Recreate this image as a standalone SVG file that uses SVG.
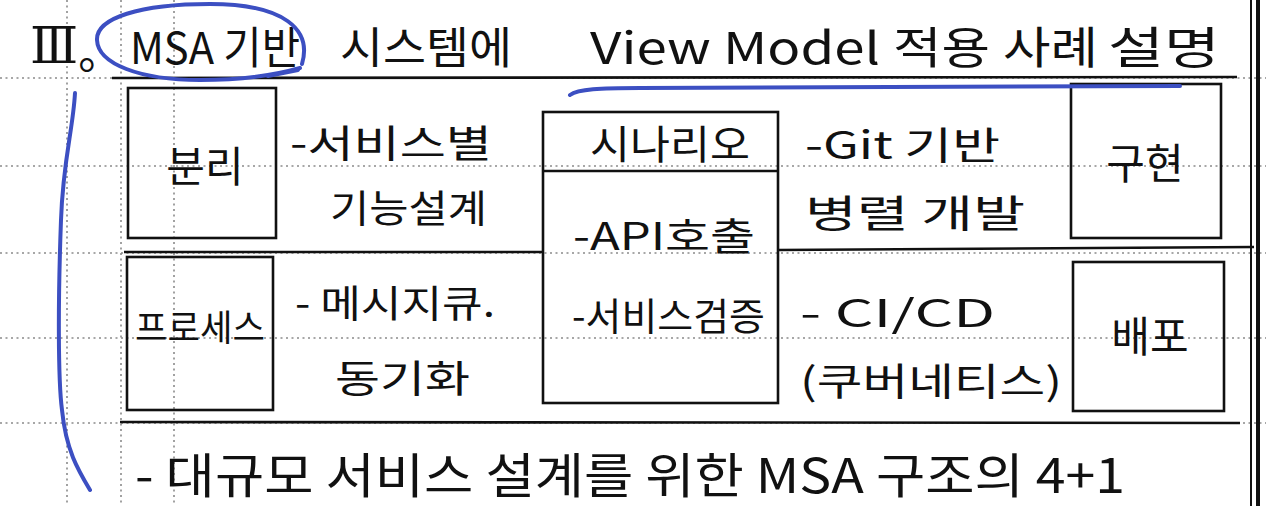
<svg xmlns="http://www.w3.org/2000/svg" width="1266" height="506" viewBox="0 0 1266 506">
<style>
.grid{stroke:#8a8a8a;stroke-width:1.6;stroke-dasharray:2 3.5;fill:none}
.rule{stroke:#111;stroke-width:2.6;fill:none}
.box{stroke:#111;stroke-width:2.6;fill:none}
.ink{fill:#111;font-family:"Noto Sans CJK KR","Liberation Sans",sans-serif;font-weight:400;dominant-baseline:central}
.title{font-size:44px}
.lbl{font-size:42px;text-anchor:middle}
.note{font-size:38px}
.serif{font-family:"Liberation Serif","DejaVu Serif",serif}
.blue{stroke:#3c4fc2;stroke-width:4;fill:none;stroke-linecap:round;stroke-linejoin:round}
</style>
<rect width="1266" height="506" fill="#ffffff"/>
<g id="grid">
<line class="grid" x1="0" y1="78" x2="1266" y2="78"/>
<line class="grid" x1="0" y1="166" x2="1266" y2="166"/>
<line class="grid" x1="0" y1="253" x2="1266" y2="253"/>
<line class="grid" x1="0" y1="338" x2="1266" y2="338"/>
<line class="grid" x1="0" y1="423" x2="1266" y2="423"/>
<line class="grid" x1="67" y1="0" x2="67" y2="506"/>
<line class="grid" x1="121" y1="0" x2="121" y2="506"/>
<line class="grid" x1="174" y1="0" x2="174" y2="506"/>
</g>
<g id="connectors">
<line class="rule" x1="112" y1="78" x2="1237" y2="77"/>
<line class="rule" x1="124" y1="252" x2="543" y2="252"/>
<line class="rule" x1="778" y1="250" x2="1254" y2="247"/>
<line class="rule" x1="120" y1="422" x2="1240" y2="423"/>
<line x1="1251" y1="0" x2="1251" y2="506" stroke="#111" stroke-width="2"/>
<line x1="1258" y1="0" x2="1258" y2="506" stroke="#111" stroke-width="4"/>
</g>
<g id="title">
<text class="ink title" x="30" y="46"><tspan class="serif" font-size="50">Ⅲ</tspan><tspan dy="4">。</tspan></text>
<text class="ink title" x="130" y="45" textLength="170" lengthAdjust="spacingAndGlyphs">MSA 기반</text>
<text class="ink title" x="340" y="45" textLength="172" lengthAdjust="spacingAndGlyphs">시스템에</text>
<text class="ink title" x="590" y="45" textLength="290" lengthAdjust="spacingAndGlyphs">View Model</text>
<text class="ink title" x="893" y="45" textLength="97" lengthAdjust="spacingAndGlyphs">적용</text>
<text class="ink title" x="1003" y="45" textLength="95" lengthAdjust="spacingAndGlyphs">사례</text>
<text class="ink title" x="1108" y="45" textLength="112" lengthAdjust="spacingAndGlyphs">설명</text>
</g>
<g id="node-bunri">
<rect class="box" x="128" y="88" width="148" height="150"/>
<text class="ink lbl" x="205" y="163">분리</text>
</g>
<g id="node-guhyeon">
<rect class="box" x="1071" y="84" width="150" height="154"/>
<text class="ink lbl" x="1145" y="160">구현</text>
</g>
<g id="node-process">
<rect class="box" x="127" y="257" width="146" height="153"/>
<text class="ink" x="135" y="325" font-size="36" textLength="130" lengthAdjust="spacingAndGlyphs">프로세스</text>
</g>
<g id="node-baepo">
<rect class="box" x="1073" y="262" width="151" height="149"/>
<text class="ink lbl" x="1150" y="333">배포</text>
</g>
<g id="node-scenario">
<rect class="box" x="543" y="112" width="235" height="291"/>
<line class="rule" x1="543" y1="171" x2="778" y2="171"/>
<text class="ink" x="590" y="142" font-size="40" textLength="160" lengthAdjust="spacingAndGlyphs">시나리오</text>
<text class="ink note" x="573" y="233" textLength="182" lengthAdjust="spacingAndGlyphs">-API호출</text>
<text class="ink note" x="572" y="313" textLength="193" lengthAdjust="spacingAndGlyphs">-서비스검증</text>
</g>
<g id="notes">
<text class="ink note" x="290" y="140" textLength="202" lengthAdjust="spacingAndGlyphs">-서비스별</text>
<text class="ink note" x="330" y="205" textLength="157" lengthAdjust="spacingAndGlyphs">기능설계</text>
<text class="ink note" x="805" y="142" textLength="195" lengthAdjust="spacingAndGlyphs">-Git 기반</text>
<text class="ink note" x="805" y="210" textLength="220" lengthAdjust="spacingAndGlyphs">병렬 개발</text>
<text class="ink note" x="295" y="300" textLength="200" lengthAdjust="spacingAndGlyphs">- 메시지큐.</text>
<text class="ink note" x="335" y="375" textLength="135" lengthAdjust="spacingAndGlyphs">동기화</text>
<text class="ink note" x="800" y="310" textLength="195" lengthAdjust="spacingAndGlyphs">- CI/CD</text>
<text class="ink note" x="800" y="378" textLength="262" lengthAdjust="spacingAndGlyphs">(쿠버네티스)</text>
<text class="ink" x="135" y="472" font-size="48" textLength="990" lengthAdjust="spacingAndGlyphs">- 대규모 서비스 설계를 위한 MSA 구조의 4+1</text>
</g>
<g id="blue-marks">
<path class="blue" d="M 302 64 C 312 30 285 4 210 4 C 140 4 96 18 97 40 C 98 64 140 80 200 80 C 240 80 272 76 300 68"/>
<path class="blue" d="M 268 76 L 298 70"/>
<path class="blue" d="M 570 95 C 578 89 600 88 640 88 L 1180 86"/>
<path class="blue" d="M 75 93 C 73 130 63 160 61 220 C 58 300 58 380 62 410 C 66 450 78 470 90 490"/>
</g>
</svg>
